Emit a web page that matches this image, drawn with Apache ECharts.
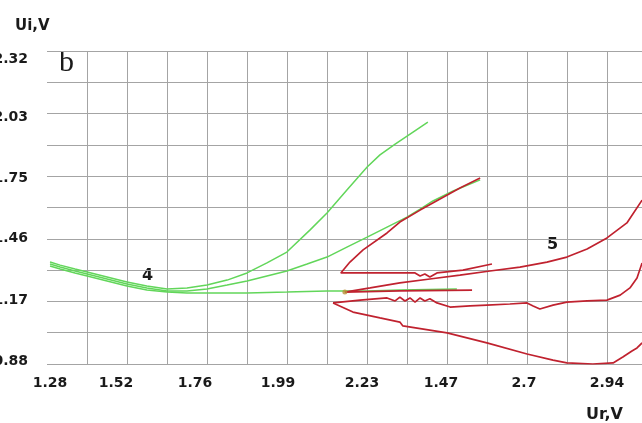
<!DOCTYPE html>
<html>
<head>
<meta charset="utf-8">
<script src="https://cdn.jsdelivr.net/npm/echarts@6/dist/echarts.min.js"></script>
<style>
html,body{margin:0;padding:0;background:#fff;}
#c{width:642px;height:423px;}
</style>
</head>
<body>
<div id="c"></div>
<script>
// Tick labels (as printed on the original)
var xTickLabels = ['1.28','1.52','1.76','1.99','2.23','1.47','2.7','2.94'];
var yTickLabels = ['0.88','1.17','1.46','1.75','2.03','2.32'];

// Axis ranges (Ur, V and Ui, V)
var xMin = 1.28, xMax = 3.0586;
var yMin = 0.88, yMax = 2.32;

// Curve 4 (green) - three branches
var g4Upper = [[1.289,1.349],[1.319,1.335],[1.363,1.317],[1.399,1.303],[1.458,1.280],[1.517,1.257],[1.576,1.239],[1.636,1.225],[1.695,1.230],[1.754,1.243],[1.814,1.266],[1.873,1.299],[1.932,1.345],[1.991,1.395],[2.060,1.497],[2.110,1.575],[2.169,1.681],[2.229,1.786],[2.267,1.842],[2.312,1.892],[2.365,1.947],[2.409,1.993]];
var g4Middle = [[1.289,1.340],[1.319,1.326],[1.363,1.308],[1.399,1.294],[1.458,1.271],[1.517,1.248],[1.576,1.230],[1.636,1.216],[1.695,1.216],[1.754,1.225],[1.814,1.243],[1.873,1.262],[1.932,1.285],[1.991,1.308],[2.051,1.340],[2.110,1.372],[2.169,1.418],[2.229,1.464],[2.288,1.510],[2.347,1.556],[2.386,1.593],[2.424,1.630],[2.484,1.676],[2.564,1.727]];
var g4Lower = [[1.289,1.331],[1.319,1.317],[1.363,1.299],[1.399,1.285],[1.458,1.262],[1.517,1.239],[1.576,1.220],[1.636,1.211],[1.695,1.207],[1.754,1.207],[1.873,1.207],[1.991,1.211],[2.110,1.216],[2.229,1.216],[2.326,1.220],[2.495,1.225]];

// Curve 5 (red) - strokes
var r5V = [[2.564,1.736],[2.504,1.690],[2.445,1.639],[2.386,1.588],[2.326,1.533],[2.288,1.483],[2.217,1.405],[2.178,1.349],[2.151,1.299],[2.208,1.299],[2.267,1.299],[2.326,1.299],[2.371,1.299],[2.386,1.285],[2.400,1.294],[2.415,1.280],[2.436,1.299],[2.513,1.312],[2.599,1.340]];
var r5Top = [[2.163,1.211],[2.238,1.230],[2.326,1.253],[2.415,1.271],[2.504,1.289],[2.593,1.308],[2.682,1.326],[2.762,1.349],[2.821,1.372],[2.881,1.409],[2.940,1.460],[2.999,1.529],[3.044,1.634]];
var r5Short = [[2.163,1.211],[2.326,1.216],[2.540,1.220]];
var r5Middle = [[2.128,1.161],[2.208,1.174],[2.288,1.184],[2.312,1.170],[2.326,1.188],[2.341,1.170],[2.356,1.184],[2.371,1.165],[2.386,1.184],[2.400,1.170],[2.415,1.180],[2.436,1.161],[2.475,1.142],[2.534,1.147],[2.584,1.151],[2.652,1.156],[2.703,1.161],[2.721,1.147],[2.741,1.133],[2.780,1.151],[2.821,1.165],[2.881,1.170],[2.940,1.174],[2.979,1.197],[3.008,1.230],[3.029,1.276],[3.044,1.345]];
var r5Bottom = [[2.128,1.161],[2.187,1.119],[2.267,1.092],[2.326,1.073],[2.335,1.055],[2.466,1.023],[2.584,0.977],[2.703,0.926],[2.780,0.898],[2.821,0.885],[2.898,0.880],[2.958,0.885],[2.987,0.912],[3.014,0.940],[3.029,0.954],[3.044,0.977]];
var junction = [[2.163,1.211]];

// ---- styling ----
var GREEN = '#62d65a';
var RED = '#c0222f';
var FONT = 'DejaVu Sans';
var TXT = '#1a1a1a';
// hand-lettered label nudges of the original scan (px), style only
var xLabelNudge = [3,-11,-12,-9,-5,-6,-3,0];
var yLabelNudge = [-2.5,-1,0,2,3.5,8];

var xRich = {}, yRich = {};
xLabelNudge.forEach(function(d,i){
  xRich['x'+i] = {fontFamily:FONT, fontSize:14, fontWeight:'bold', color:TXT,
    padding: d >= 0 ? [0,0,0,2*d] : [0,-2*d,0,0]};
});
yLabelNudge.forEach(function(d,i){
  yRich['y'+i] = {fontFamily:FONT, fontSize:14, fontWeight:'bold', color:TXT,
    padding: d >= 0 ? [2*d,0,0,0] : [0,0,-2*d,0]};
});

var chart = echarts.init(document.getElementById('c'), null, {renderer:'canvas'});

function line(data, color, w) {
  return {type:'line', xAxisIndex:1, yAxisIndex:1, data:data, symbol:'none', smooth:false,
    lineStyle:{color:color, width:w}, z:3, silent:true, animation:false};
}

var xSteps = (xTickLabels.length - 1) * 2 + 1;
var ySteps = (yTickLabels.length - 1) * 2;

chart.setOption({
  animation:false,
  backgroundColor:'#ffffff',
  grid:{left:47, top:51, width:600, height:313, containLabel:false, outerBoundsMode:'none'},
  xAxis:[
    {type:'value', min:0, max:xSteps, interval:1, position:'bottom',
     axisLine:{show:false}, axisTick:{show:false},
     splitLine:{show:true, showMinLine:false, lineStyle:{color:'#a4a4a4', width:1}},
     axisLabel:{show:true, margin:12, color:TXT, fontFamily:FONT, fontSize:14, fontWeight:'bold',
       rich:xRich, hideOverlap:false,
       formatter:function(v){ var k=v/2; return (v % 2 === 0 && k < xTickLabels.length) ? '{x'+k+'|'+xTickLabels[k]+'}' : ''; }}},
    {type:'value', min:xMin, max:xMax, show:false}
  ],
  yAxis:[
    {type:'value', min:0, max:ySteps, interval:1,
     axisLine:{show:false}, axisTick:{show:false},
     splitLine:{show:true, lineStyle:{color:'#a4a4a4', width:1}},
     axisLabel:{show:true, margin:19, color:TXT, fontFamily:FONT, fontSize:14, fontWeight:'bold',
       rich:yRich, hideOverlap:false,
       formatter:function(v){ var k=v/2; return (v % 2 === 0) ? '{y'+k+'|'+yTickLabels[k]+'}' : ''; }}},
    {type:'value', min:yMin, max:yMax, show:false}
  ],
  graphic:[
    {type:'text', left:15, top:19, style:{text:'Ui,V', font:'bold 15px "DejaVu Sans"', fill:TXT}},
    {type:'text', left:586, top:407, style:{text:'Ur,V', font:'bold 16px "DejaVu Sans"', fill:TXT}},
    {type:'text', left:59, top:48, style:{text:'b', font:'30px "Liberation Serif"', fill:TXT}},
    {type:'text', left:142, top:268, style:{text:'4', font:'bold 16px "DejaVu Sans"', fill:TXT}},
    {type:'text', left:547, top:237, style:{text:'5', font:'bold 16px "DejaVu Sans"', fill:TXT}}
  ],
  series:[
    line(g4Upper, GREEN, 1.5),
    line(g4Middle, GREEN, 1.5),
    line(g4Lower, GREEN, 1.5),
    line(r5V, RED, 1.7),
    line(r5Top, RED, 1.7),
    line(r5Short, RED, 1.7),
    line(r5Middle, RED, 1.7),
    line(r5Bottom, RED, 1.7),
    {type:'scatter', xAxisIndex:1, yAxisIndex:1, data:junction, symbolSize:5,
     itemStyle:{color:'#b8923a'}, z:4, silent:true}
  ]
});
</script>
</body>
</html>
